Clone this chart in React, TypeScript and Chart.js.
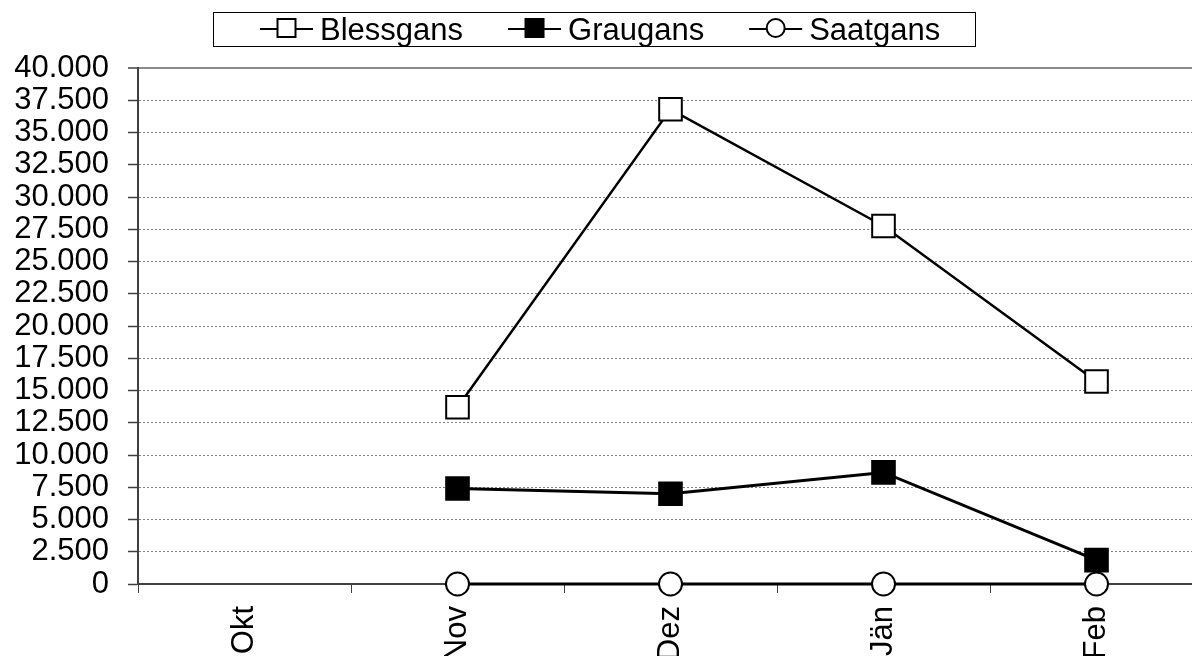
import { useEffect, useRef } from "react";
import { Chart, registerables } from "chart.js";

Chart.register(...registerables);

// ---- data ----
const categories = ["Okt", "Nov", "Dez", "Jän", "Feb"];
const seriesNames = ["Blessgans", "Graugans", "Saatgans"];
const blessgans: (number | null)[] = [null, 13700, 36800, 27750, 15700];
const graugans: (number | null)[] = [null, 7400, 7000, 8650, 1850];
const saatgans: (number | null)[] = [null, 0, 0, 0, 0];
const yMin = 0;
const yMax = 40000;
const yStep = 2500;

const FONT_FAMILY = '"Liberation Sans", Arial, Helvetica, sans-serif';
const FONT_SIZE = 31;

function fmtThousands(v: number): string {
  const s = Math.round(v).toString();
  return s.replace(/\B(?=(\d{3})+(?!\d))/g, ".");
}

const boxLegend = {
  id: "boxLegend",
  afterDraw(chart: any) {
    const ctx: CanvasRenderingContext2D = chart.ctx;
    ctx.save();
    ctx.font = `${FONT_SIZE}px ${FONT_FAMILY}`;
    const symW = 53;
    const symGap = 7;
    const itemGap = 45;
    const padL = 47;
    const padR = 35;
    const items = chart.data.datasets.map((ds: any) => ({
      ds,
      w: ctx.measureText(ds.label).width,
    }));
    const contentW =
      items.reduce((s: number, it: any) => s + symW + symGap + it.w, 0) +
      itemGap * (items.length - 1);
    const boxW = contentW + padL + padR;
    const cx = 594;
    const left = Math.round(cx - boxW / 2);
    const top = 12;
    const h = 34;
    ctx.strokeStyle = "#000";
    ctx.lineWidth = 1;
    ctx.strokeRect(left + 0.5, top + 0.5, Math.round(boxW), h);
    let x = left + padL;
    const lineY = 29;
    const markY = 28;
    for (const it of items) {
      const ds = it.ds;
      ctx.strokeStyle = "#000";
      ctx.lineWidth = 2;
      ctx.beginPath();
      ctx.moveTo(x, lineY);
      ctx.lineTo(x + symW, lineY);
      ctx.stroke();
      const mx = x + symW / 2;
      ctx.fillStyle = ds.pointBackgroundColor;
      ctx.lineWidth = 2;
      ctx.beginPath();
      if (ds.pointStyle === "circle") {
        ctx.arc(mx, markY, 9, 0, Math.PI * 2);
      } else {
        ctx.rect(mx - 9, markY - 9, 18, 18);
      }
      ctx.fill();
      ctx.stroke();
      ctx.fillStyle = "#000";
      ctx.textBaseline = "alphabetic";
      ctx.textAlign = "left";
      ctx.fillText(ds.label, x + symW + symGap, 40);
      x += symW + symGap + it.w + itemGap;
    }
    ctx.restore();
  },
};

export default function App() {
  const ref = useRef<HTMLCanvasElement | null>(null);

  useEffect(() => {
    if (!ref.current) return;
    const font = { family: FONT_FAMILY, size: FONT_SIZE };
    const chart = new Chart(ref.current, {
      type: "line",
      data: {
        labels: categories,
        datasets: [
          {
            label: seriesNames[0],
            data: blessgans,
            borderColor: "#000",
            borderWidth: 2.5,
            pointStyle: "rect",
            pointRadius: 16,
            pointBorderWidth: 2,
            pointBackgroundColor: "#fff",
            pointBorderColor: "#000",
            tension: 0,
            clip: false,
          },
          {
            label: seriesNames[1],
            data: graugans,
            borderColor: "#000",
            borderWidth: 3,
            pointStyle: "rect",
            pointRadius: 16,
            pointBorderWidth: 2,
            pointBackgroundColor: "#000",
            pointBorderColor: "#000",
            tension: 0,
            clip: false,
          },
          {
            label: seriesNames[2],
            data: saatgans,
            borderColor: "#000",
            borderWidth: 3,
            pointStyle: "circle",
            pointRadius: 11.5,
            pointBorderWidth: 2,
            pointBackgroundColor: "#fff",
            pointBorderColor: "#000",
            tension: 0,
            clip: false,
          },
        ],
      },
      options: {
        responsive: false,
        animation: false,
        layout: { padding: { top: 68, right: 12, left: 0, bottom: 0 } },
        plugins: {
          legend: { display: false },
          tooltip: { enabled: false },
        },
        scales: {
          x: {
            type: "category",
            offset: true,
            grid: {
              offset: true,
              drawOnChartArea: false,
              drawTicks: true,
              tickLength: 9,
              color: "#404040",
              lineWidth: 1,
            },
            border: { display: true, color: "#404040", width: 2 },
            ticks: {
              maxRotation: 90,
              minRotation: 90,
              autoSkip: false,
              padding: 13,
              color: "#000",
              font,
            },
            afterFit: (s: any) => {
              s.height = 116;
              s.paddingLeft = 0;
              s.paddingRight = 0;
            },
          },
          y: {
            min: yMin,
            max: yMax,
            ticks: {
              stepSize: yStep,
              autoSkip: false,
              padding: 19,
              color: "#000",
              font,
              callback: (v: any) => fmtThousands(Number(v)),
            },
            grid: {
              color: (c: any) =>
                c.tick && c.tick.value === yMax ? "#8a8a8a" : "#808080",
              lineWidth: (c: any) => (c.tick && c.tick.value === yMax ? 2 : 1),
              tickLength: 10,
              tickColor: "#404040",
              tickWidth: 1.5,
            },
            border: {
              display: true,
              color: "#404040",
              width: 2,
              dash: (c: any) =>
                c.tick && c.tick.value === yMax ? [] : [2, 2],
            },
            afterFit: (s: any) => {
              s.width = 138;
            },
          },
        },
      },
      plugins: [boxLegend],
    });
    return () => chart.destroy();
  }, []);

  return (
    <div
      style={{
        position: "fixed",
        left: 0,
        top: 0,
        width: 1192,
        height: 656,
        overflow: "hidden",
        background: "#fff",
      }}
    >
      <canvas
        ref={ref}
        width={1221}
        height={700}
        style={{ width: 1221, height: 700, display: "block" }}
      />
    </div>
  );
}
